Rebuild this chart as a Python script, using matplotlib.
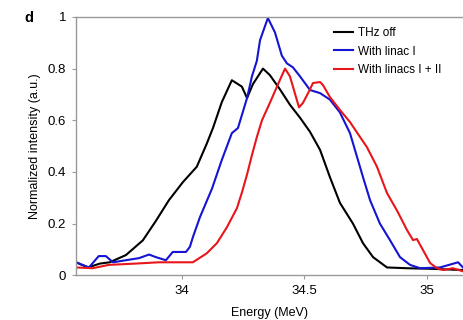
import numpy as np
import matplotlib
matplotlib.use("Agg")
import matplotlib.pyplot as plt

plt.rcParams['font.family'] = ['Liberation Sans', 'DejaVu Sans']

# THz off
e_off = [33.569, 33.618, 33.667, 33.707, 33.773, 33.842, 33.895, 33.948, 34.005, 34.062,
         34.103, 34.128, 34.164, 34.205, 34.230, 34.246, 34.267, 34.291, 34.332, 34.360,
         34.401, 34.442, 34.483, 34.524, 34.565, 34.605, 34.646, 34.699, 34.740, 34.781,
         34.838, 34.920, 35.010, 35.148]
i_off = [0.05, 0.03, 0.045, 0.05, 0.078, 0.135, 0.21, 0.29, 0.36, 0.42,
         0.51, 0.57, 0.67, 0.755, 0.74, 0.73, 0.686, 0.74, 0.80, 0.775,
         0.72, 0.66, 0.61, 0.555, 0.485, 0.38, 0.28, 0.20, 0.124, 0.07,
         0.03, 0.027, 0.025, 0.02]

# with linac I
e_lin1 = [33.569, 33.622, 33.662, 33.691, 33.720, 33.773, 33.826, 33.867, 33.895, 33.936,
          33.964, 34.018, 34.034, 34.046, 34.075, 34.124, 34.164, 34.205, 34.230, 34.267,
          34.287, 34.307, 34.320, 34.352, 34.381, 34.409, 34.430, 34.454, 34.483, 34.524,
          34.565, 34.605, 34.646, 34.687, 34.716, 34.740, 34.769, 34.809, 34.850, 34.891,
          34.932, 34.973, 35.054, 35.128, 35.148]
i_lin1 = [0.05, 0.03, 0.074, 0.074, 0.05, 0.058, 0.066, 0.08, 0.07, 0.058,
          0.09, 0.09, 0.11, 0.147, 0.225, 0.335, 0.446, 0.55, 0.57, 0.686,
          0.77, 0.83, 0.91, 0.996, 0.94, 0.85, 0.82, 0.805, 0.77, 0.717,
          0.705, 0.68, 0.63, 0.55, 0.457, 0.38, 0.29, 0.20, 0.136, 0.07,
          0.04, 0.027, 0.03, 0.05, 0.03]

# with linacs I + II
e_lin12 = [33.569, 33.638, 33.703, 33.813, 33.907, 33.977, 34.046, 34.103, 34.144, 34.185,
           34.226, 34.246, 34.267, 34.287, 34.307, 34.328, 34.360, 34.389, 34.410, 34.422,
           34.442, 34.462, 34.479, 34.495, 34.516, 34.536, 34.565, 34.577, 34.605, 34.646,
           34.687, 34.728, 34.756, 34.797, 34.838, 34.879, 34.920, 34.944, 34.960, 34.985,
           35.014, 35.042, 35.067, 35.107, 35.148]
i_lin12 = [0.03, 0.027, 0.04, 0.045, 0.05, 0.05, 0.05, 0.085, 0.124, 0.186,
           0.26, 0.32, 0.39, 0.465, 0.535, 0.60, 0.667, 0.73, 0.775, 0.80,
           0.77, 0.705, 0.65, 0.667, 0.705, 0.744, 0.748, 0.736, 0.69, 0.64,
           0.593, 0.535, 0.496, 0.42, 0.318, 0.25, 0.174, 0.136, 0.14, 0.097,
           0.047, 0.027, 0.02, 0.027, 0.015]

xticks = [34, 34.5, 35]
xtick_labels = ['34', '34.5', '35']
yticks = [0, 0.2, 0.4, 0.6, 0.8, 1]
ytick_labels = ['0', '0.2', '0.4', '0.6', '0.8', '1']

fig = plt.figure(figsize=(4.63, 3.2), dpi=100)
ax = fig.add_axes([0.164, 0.14, 0.836, 0.807])

ax.plot(e_off, i_off, color='black', lw=1.5, label='THz off')
ax.plot(e_lin1, i_lin1, color='#1414d2', lw=1.5, label='With linac I')
ax.plot(e_lin12, i_lin12, color='#e8161b', lw=1.5, label='With linacs I + II')

ax.set_xlim(33.569, 35.148)
ax.set_ylim(0, 1)
ax.set_xticks(xticks)
ax.set_xticklabels(xtick_labels)
ax.set_yticks(yticks)
ax.set_yticklabels(ytick_labels)

for side in ['left', 'bottom', 'top']:
    ax.spines[side].set_color('#999999')
    ax.spines[side].set_linewidth(1.0)
ax.spines['right'].set_visible(False)
ax.tick_params(direction='out', length=3, width=0.8, color='#999999',
               labelsize=9.5, pad=4)

ax.set_xlabel('Energy (MeV)', fontsize=9, labelpad=7)
ax.set_ylabel('Normalized intensity (a.u.)', fontsize=9, labelpad=5)

fig.text(0.062, 0.945, 'd', fontsize=10.5, fontweight='bold', va='center', ha='center')

ax.legend(loc='upper left', bbox_to_anchor=(0.712, 0.93), bbox_transform=fig.transFigure,
          frameon=False, fontsize=8.5, handlelength=1.6, handletextpad=0.4,
          labelspacing=0.55, borderaxespad=0)

fig.savefig('out.png', dpi=100)
